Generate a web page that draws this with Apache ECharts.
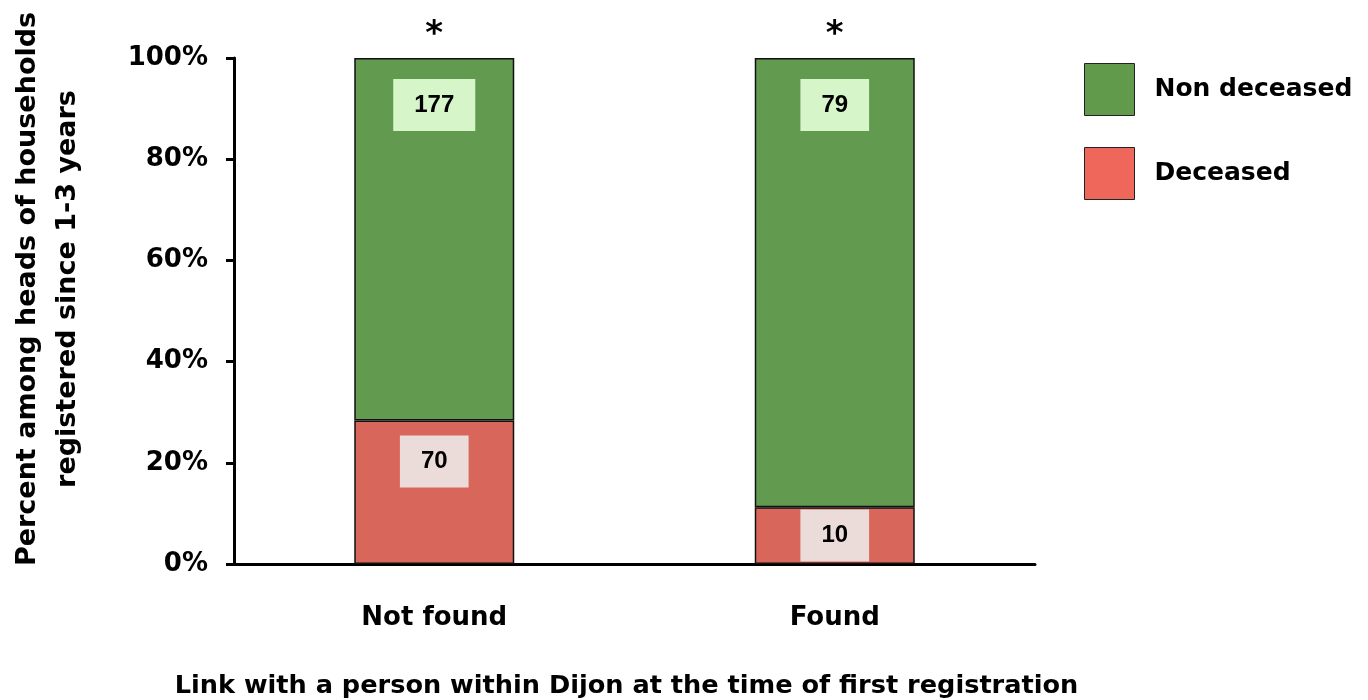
<!DOCTYPE html>
<html>
<head>
<meta charset="utf-8">
<script src="https://cdn.jsdelivr.net/npm/echarts@6/dist/echarts.min.js"></script>
<style>
html,body{margin:0;padding:0;background:#fff;}
#chart{width:1368px;height:700px;}
</style>
</head>
<body>
<div id="chart"></div>
<script>
var categories = ['Not found', 'Found'];
var deceasedCounts = [70, 10];
var nonDeceasedCounts = [177, 79];
var significance = ['*', '*'];
var yTicks = [0, 20, 40, 60, 80, 100];

var FONT = '"DejaVu Sans", sans-serif';
var LFONT = '"Liberation Sans", Arial, sans-serif';
var totals = categories.map(function (c, i) { return deceasedCounts[i] + nonDeceasedCounts[i]; });
function pct(v, i) { return v / totals[i] * 100; }

var chart = echarts.init(document.getElementById('chart'));
var option = {
  animation: false,
  backgroundColor: '#fff',
  grid: { left: 234, right: 333, top: 58, bottom: 136, containLabel: false, outerBoundsMode: 'none' },
  legend: {
    orient: 'vertical',
    left: 1084,
    top: 63,
    padding: 0,
    itemWidth: 50,
    itemHeight: 52,
    itemGap: 31,
    icon: 'rect',
    selectedMode: false,
    textStyle: { fontFamily: FONT, fontWeight: 'bold', fontSize: 25, color: '#000', padding: [0, 0, 0, 15] },
    data: [
      { name: 'Non deceased', itemStyle: { color: '#629a4c', borderColor: '#222', borderWidth: 1 } },
      { name: 'Deceased', itemStyle: { color: '#ee675a', borderColor: '#222', borderWidth: 1 } }
    ]
  },
  xAxis: {
    type: 'category',
    data: categories,
    axisLine: { show: true, lineStyle: { color: '#000', width: 3 } },
    axisTick: { show: false },
    axisLabel: { margin: 41, fontFamily: FONT, fontWeight: 'bold', fontSize: 26, color: '#000' },
    name: 'Link with a person within Dijon at the time of first registration',
    nameLocation: 'middle',
    nameGap: 109,
    nameTextStyle: { fontFamily: FONT, fontWeight: 'bold', fontSize: 25.6, color: '#000', padding: [0, 16, 0, 0] }
  },
  yAxis: {
    type: 'value',
    min: yTicks[0],
    max: yTicks[yTicks.length - 1],
    interval: yTicks[1] - yTicks[0],
    splitLine: { show: false },
    axisLine: { show: true, lineStyle: { color: '#000', width: 3 } },
    axisTick: { show: true, length: 8, lineStyle: { color: '#000', width: 3 } },
    axisLabel: { margin: 26, formatter: '{value}%', fontFamily: FONT, fontWeight: 'bold', fontSize: 26, color: '#000' }
  },
  graphic: [{
    type: 'text',
    x: 48,
    y: 289,
    rotation: Math.PI / 2,
    style: {
      text: 'Percent among heads of households\nregistered since 1-3 years',
      align: 'center',
      verticalAlign: 'middle',
      fontFamily: FONT,
      fontWeight: 'bold',
      fontSize: 27,
      lineHeight: 40,
      fill: '#000'
    }
  }],
  series: [
    {
      name: 'Deceased',
      type: 'bar',
      stack: 'total',
      barWidth: 160,
      itemStyle: { color: '#d9665a', borderColor: '#111', borderWidth: 1.5 },
      data: deceasedCounts.map(function (v, i) {
        return {
          value: pct(v, i),
          label: i === 0 ? { position: 'insideTop', distance: 15 } : { position: 'inside' }
        };
      }),
      label: {
        show: true,
        formatter: function (p) { return deceasedCounts[p.dataIndex]; },
        fontFamily: LFONT, fontWeight: 'bold', fontSize: 24, color: '#000',
        backgroundColor: '#ecdcd9',
        padding: [14, 21]
      }
    },
    {
      name: 'Non deceased',
      type: 'bar',
      stack: 'total',
      barWidth: 160,
      itemStyle: { color: '#629a50', borderColor: '#111', borderWidth: 1.5 },
      data: nonDeceasedCounts.map(function (v, i) { return pct(v, i); }),
      label: {
        show: true,
        position: 'insideTop',
        distance: 21,
        formatter: function (p) { return nonDeceasedCounts[p.dataIndex]; },
        fontFamily: LFONT, fontWeight: 'bold', fontSize: 24, color: '#000',
        backgroundColor: '#d6f5c9',
        padding: [14, 21]
      },
      markPoint: {
        symbol: 'circle',
        symbolSize: 1,
        itemStyle: { color: 'rgba(0,0,0,0)' },
        label: {
          show: true,
          position: 'top',
          distance: 5,
          formatter: function (p) { return p.value; },
          fontFamily: FONT, fontWeight: 'bold', fontSize: 34, color: '#000'
        },
        data: categories.map(function (c, i) {
          return { coord: [c, 100], value: significance[i] };
        })
      }
    }
  ]
};
chart.setOption(option);
</script>
</body>
</html>
